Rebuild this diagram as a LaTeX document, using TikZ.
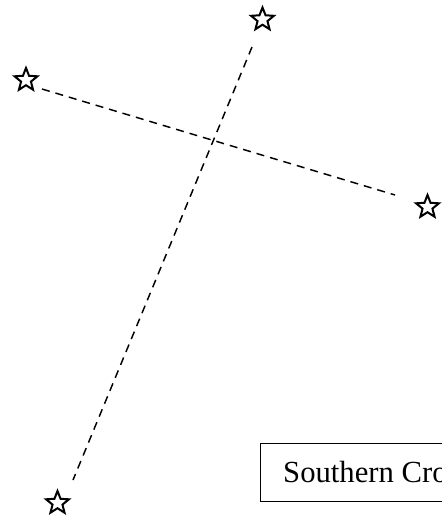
\documentclass[tikz,border=0pt]{standalone}
\usepackage{fontspec}
\setmainfont{Liberation Serif}
\usetikzlibrary{shapes.geometric}
\begin{document}
\begin{tikzpicture}[x=0.75pt,y=-0.75pt,
  starmark/.style={star,star points=5,star point ratio=2.3,draw,line width=1.5pt,minimum size=18pt,inner sep=0pt},
  cross/.style={dashed,dash pattern=on 6pt off 4.5pt,line width=1.1pt},
  labelbox/.style={draw,line width=0.8pt,anchor=north west,inner xsep=17pt,minimum height=43.5pt,text height=15.5pt,text depth=0pt,font=\fontsize{23pt}{27pt}\selectfont}]
\useasboundingbox (0,0) rectangle (442,515);
\clip (0,0) rectangle (442,515);
\node[starmark] (top) at (262.5,19.5) {};
\node[starmark] (left) at (26,80) {};
\node[starmark] (right) at (427.5,207) {};
\node[starmark] (bottom) at (57.5,503) {};
\coordinate (t1) at (252,47);
\coordinate (b1) at (73,480);
\coordinate (l1) at (42,89);
\coordinate (r1) at (395,195);
\draw[cross] (t1) -- (b1);
\draw[cross] (l1) -- (r1);
\node[labelbox] (lbl) at (260,443) {Southern Cross};
\end{tikzpicture}
\end{document}
